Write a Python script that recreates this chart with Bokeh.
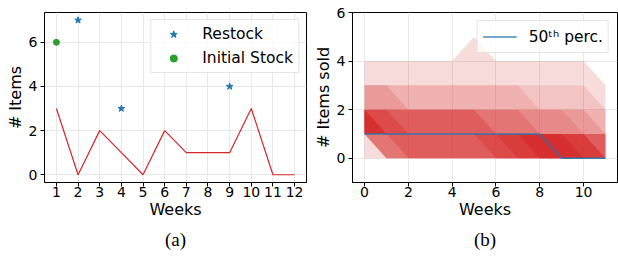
from bokeh.plotting import figure
from bokeh.layouts import row
from bokeh.models import Range1d, FixedTicker, Legend, LegendItem, Title
from bokeh.embed import file_html
from bokeh.resources import INLINE

# ---------------- data: panel (a) ----------------
weeks_a = [1, 2, 3, 4, 5, 6, 7, 8, 9, 10, 11, 12]
sold_a = [3, 0, 2, 1, 0, 2, 1, 1, 1, 3, 0, 0]
restock_weeks = [2, 4, 9]
restock_items = [7, 3, 4]
initial_week = [1]
initial_items = [6]
yticks_a = [0, 2, 4, 6]

# ---------------- data: panel (b) ----------------
weeks_b = [0, 1, 2, 3, 4, 5, 6, 7, 8, 9, 10, 11]
median_b = [1, 1, 1, 1, 1, 1, 1, 1, 1, 0, 0, 0]
# percentile bands, outermost first
band_upper = [
    [4, 4, 4, 4, 4, 5, 4, 4, 4, 4, 4, 3],
    [3, 3, 3, 3, 3, 3, 3, 3, 3, 3, 3, 2],
    [3, 3, 3, 3, 3, 3, 3, 3, 2, 2, 2, 2],
    [3, 3, 2, 2, 2, 2, 2, 2, 2, 2, 2, 1],
    [2, 2, 2, 2, 2, 2, 2, 2, 2, 2, 1, 1],
    [2, 2, 2, 2, 2, 2, 2, 2, 1, 1, 1, 1],
    [2, 2, 2, 2, 2, 2, 1, 1, 1, 1, 1, 1],
    [2, 2, 1, 1, 1, 1, 1, 1, 1, 1, 1, 0],
    [2, 1, 1, 1, 1, 1, 1, 1, 1, 1, 1, 0],
    [2, 1, 1, 1, 1, 1, 1, 1, 1, 1, 0, 0],
]
band_lower = [
    [0, 0, 0, 0, 0, 0, 0, 0, 0, 0, 0, 0],
    [1, 0, 0, 0, 0, 0, 0, 0, 0, 0, 0, 0],
    [1, 0, 0, 0, 0, 0, 0, 0, 0, 0, 0, 0],
    [1, 0, 0, 0, 0, 0, 0, 0, 0, 0, 0, 0],
    [1, 0, 0, 0, 0, 0, 0, 0, 0, 0, 0, 0],
    [1, 0, 0, 0, 0, 0, 0, 0, 0, 0, 0, 0],
    [1, 1, 0, 0, 0, 0, 0, 0, 0, 0, 0, 0],
    [1, 1, 1, 1, 1, 1, 0, 0, 0, 0, 0, 0],
    [1, 1, 1, 1, 1, 1, 1, 0, 0, 0, 0, 0],
    [1, 1, 1, 1, 1, 1, 1, 1, 0, 0, 0, 0],
]
band_alpha = [0.16, 0.13, 0.12, 0.16, 0.15, 0.2, 0.3, 0.35, 0.4, 0.6]
xticks_b = [0, 2, 4, 6, 8, 10]
yticks_b = [0, 2, 4, 6]

FONT = "DejaVu Sans"
RED = "#d62728"
BLUE = "#1f77b4"
GREEN = "#2ca02c"


def style(p):
    p.outline_line_color = "black"
    p.outline_line_width = 1
    for ax in (p.xaxis, p.yaxis):
        ax.axis_line_color = "black"
        ax.major_tick_line_color = "black"
        ax.major_tick_in = 0
        ax.major_tick_out = 4
        ax.minor_tick_in = 0
        ax.minor_tick_out = 0
        ax.major_label_text_font = FONT
        ax.major_label_text_font_size = "14px"
        ax.major_label_text_color = "black"
        ax.axis_label_text_font = FONT
        ax.axis_label_text_font_size = "16px"
        ax.axis_label_text_font_style = "normal"
        ax.axis_label_text_color = "black"
    p.xaxis.major_label_standoff = 0
    p.xaxis.axis_label_standoff = 0
    p.yaxis.major_label_standoff = 3
    p.yaxis.axis_label_standoff = 1
    p.grid.grid_line_color = "#e8e8e8"
    p.grid.grid_line_width = 1


def caption(p, txt):
    t = Title(text=txt, align="center", text_font="Liberation Serif",
              text_font_size="19px", text_font_style="normal",
              text_color="black", standoff=11)
    p.add_layout(t, "below")


# ---------------- panel (a) ----------------
p1 = figure(width=310, height=256, output_backend="svg", toolbar_location=None,
            x_range=Range1d(0.45, 12.55), y_range=Range1d(-0.35, 7.35),
            min_border_left=44, min_border_right=4, min_border_top=5,
            min_border_bottom=74)
p1.line(weeks_a, sold_a, line_color=RED, line_width=1.2)
r_star = p1.scatter(restock_weeks, restock_items, marker="star", size=7,
                    fill_color=BLUE, line_color=BLUE)
r_dot = p1.scatter(initial_week, initial_items, marker="circle", size=6,
                   fill_color=GREEN, line_color=GREEN)
p1.xaxis.ticker = FixedTicker(ticks=weeks_a)
p1.yaxis.ticker = FixedTicker(ticks=yticks_a)
p1.xaxis.axis_label = "Weeks"
p1.yaxis.axis_label = "# Items"
style(p1)
leg1 = Legend(items=[LegendItem(label="Restock", renderers=[r_star]),
                     LegendItem(label="Initial Stock", renderers=[r_dot])],
              location="top_right")
caption(p1, "(a)")

# ---------------- panel (b) ----------------
p2 = figure(width=308, height=256, output_backend="svg", toolbar_location=None,
            x_range=Range1d(-0.55, 11.55), y_range=Range1d(-1, 6),
            min_border_left=42, min_border_right=1, min_border_top=12,
            min_border_bottom=74)
for lo, hi, a in zip(band_lower, band_upper, band_alpha):
    p2.varea(x=weeks_b, y1=lo, y2=hi, fill_color=RED, fill_alpha=a)
r_med = p2.line(weeks_b, median_b, line_color=BLUE, line_width=1.5, line_alpha=0.85)
p2.xaxis.ticker = FixedTicker(ticks=xticks_b)
p2.yaxis.ticker = FixedTicker(ticks=yticks_b)
p2.xaxis.axis_label = "Weeks"
p2.yaxis.axis_label = "# Items sold"
style(p2)
leg2 = Legend(items=[LegendItem(label="50\u1d57\u02b0 perc.", renderers=[r_med])],
              location="top_right")
caption(p2, "(b)")

for leg, m, h in ((leg1, 7, 18), (leg2, 8, 21)):
    leg.label_text_font = FONT
    leg.label_text_font_size = "15.5px"
    leg.label_text_color = "black"
    leg.glyph_width = 34
    leg.glyph_height = h
    leg.label_height = h
    leg.label_standoff = 12
    leg.padding = 5
    leg.spacing = 6
    leg.margin = m
    leg.border_line_color = "#cccccc"
    leg.border_line_width = 1
    leg.background_fill_alpha = 0.8
p1.add_layout(leg1)
p2.add_layout(leg2)

layout = row(p1, p2)
open("out.html", "w").write(file_html(layout, INLINE))
